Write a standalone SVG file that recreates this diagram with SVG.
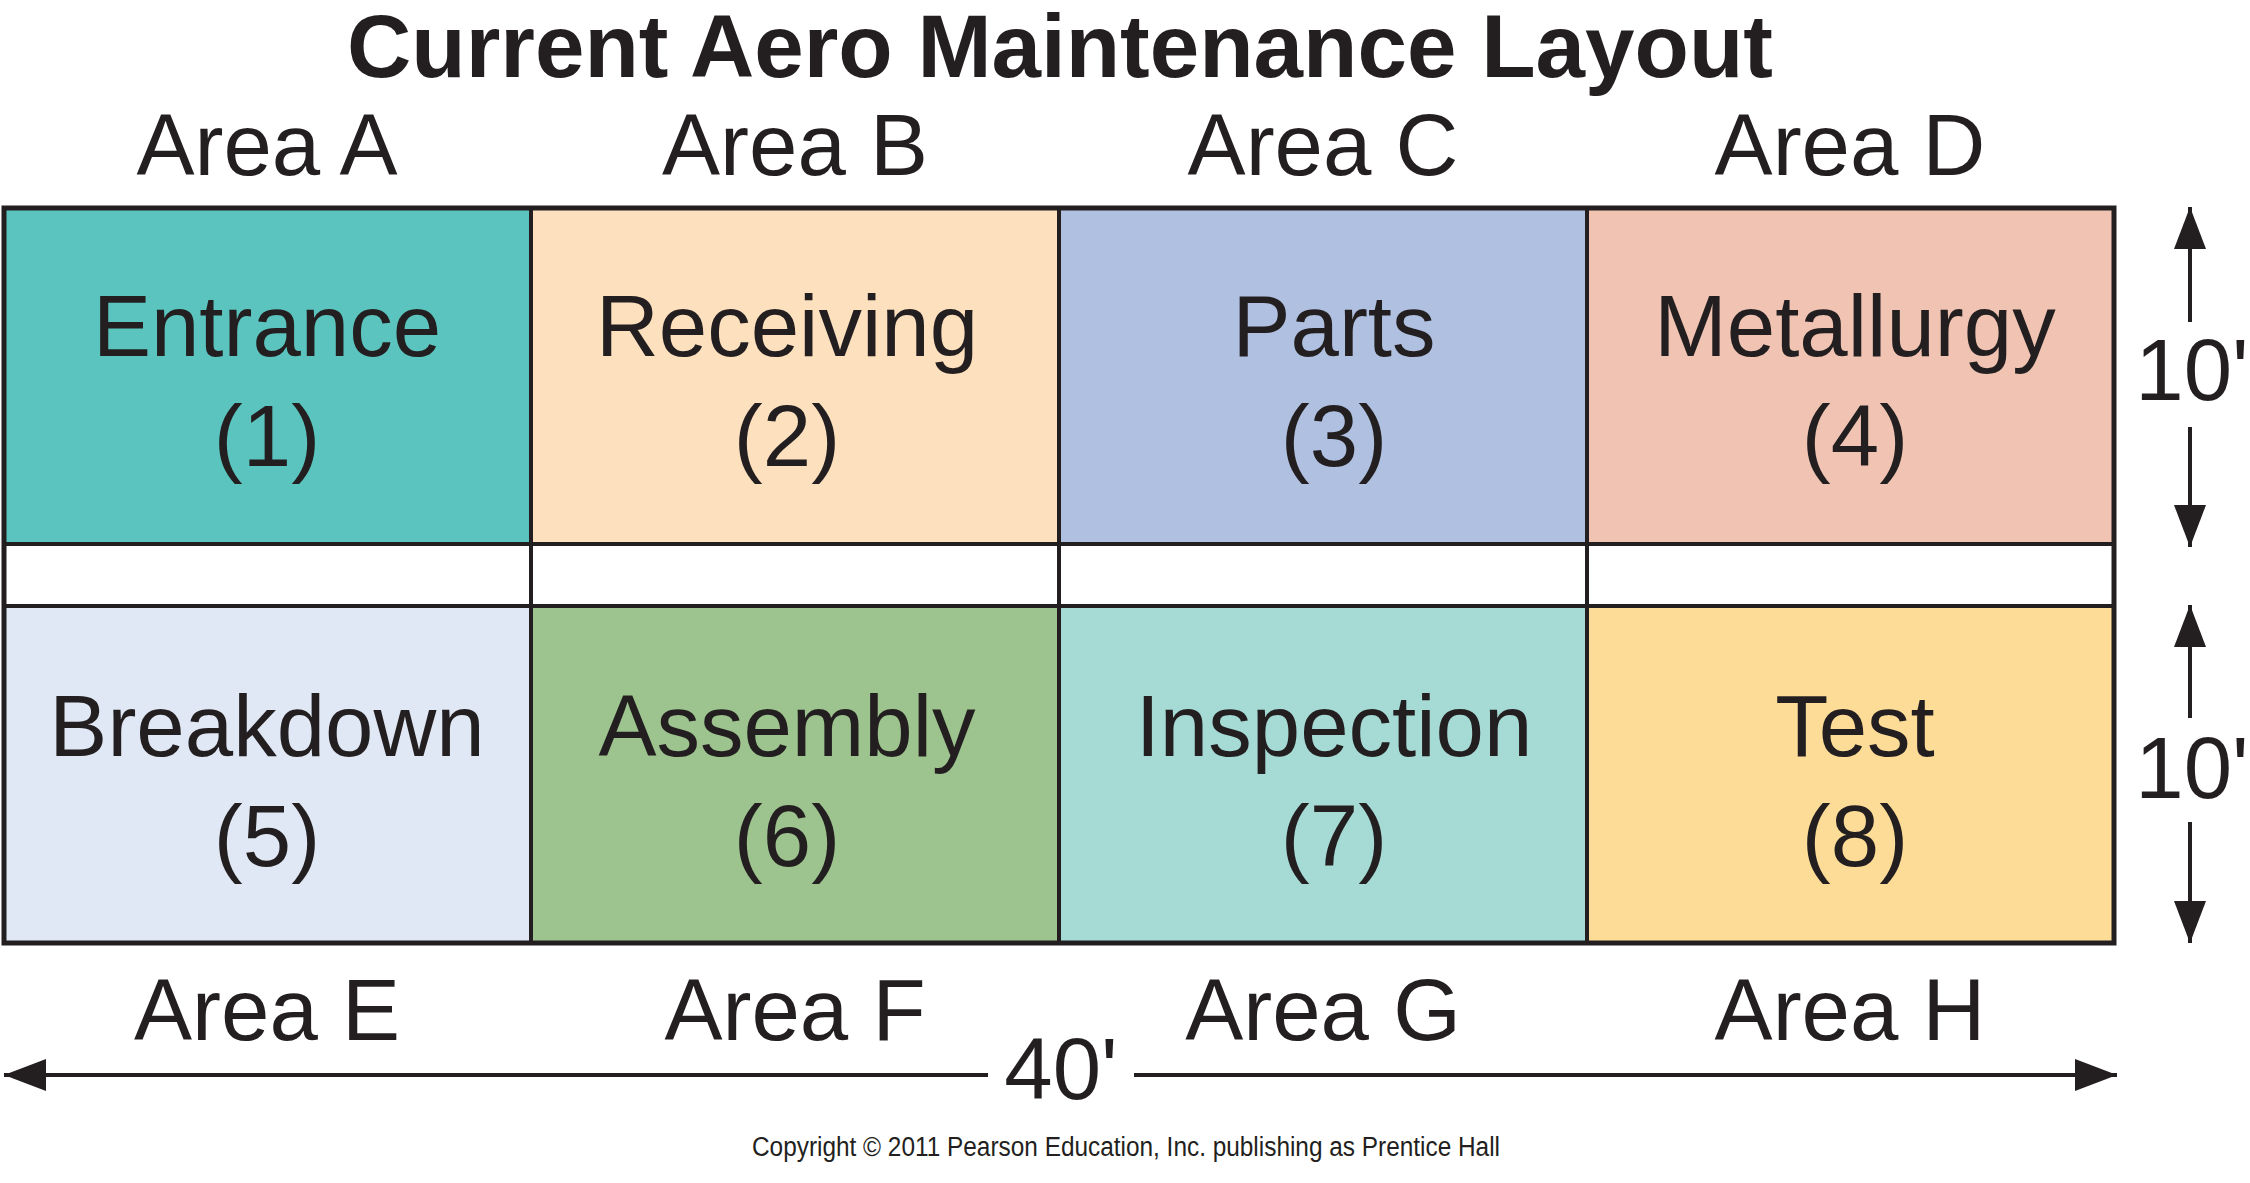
<svg xmlns="http://www.w3.org/2000/svg" width="2250" height="1183" viewBox="0 0 2250 1183">
<style>
.t{font-family:"Liberation Sans",Arial,sans-serif;fill:#231f20;text-anchor:middle}
.title{font-size:89px;font-weight:bold}
.lbl{font-size:87px}
.cell{stroke:#231f20;stroke-width:4}
.dim{stroke:#231f20;stroke-width:4;fill:none}
.copy{font-family:"Liberation Sans",Arial,sans-serif;font-size:27px;fill:#231f20;text-anchor:middle}
</style>
<defs>
<marker id="ah" viewBox="0 0 42 32" refX="42" refY="16" markerWidth="42" markerHeight="32" markerUnits="userSpaceOnUse" orient="auto-start-reverse">
<path d="M0,0 L42,16 L0,32 Z" fill="#231f20"/>
</marker>
</defs>
<rect width="2250" height="1183" fill="#ffffff"/>
<text class="t title" x="1060" y="77">Current Aero Maintenance Layout</text>
<g id="area-labels-top">
<text class="t lbl" x="267" y="175">Area A</text>
<text class="t lbl" x="795" y="175">Area B</text>
<text class="t lbl" x="1323" y="175">Area C</text>
<text class="t lbl" x="1850" y="175">Area D</text>
</g>
<g id="aisles">
<rect class="cell" x="4" y="544" width="527" height="62" fill="#ffffff"/>
<rect class="cell" x="531" y="544" width="528" height="62" fill="#ffffff"/>
<rect class="cell" x="1059" y="544" width="528" height="62" fill="#ffffff"/>
<rect class="cell" x="1587" y="544" width="527" height="62" fill="#ffffff"/>
</g>
<g id="entrance">
<rect class="cell" x="4" y="208" width="527" height="336" fill="#5bc4be"/>
<text class="t lbl" x="267" y="356">Entrance</text>
<text class="t lbl" x="267" y="466">(1)</text>
</g>
<g id="receiving">
<rect class="cell" x="531" y="208" width="528" height="336" fill="#fde0be"/>
<text class="t lbl" x="787" y="356">Receiving</text>
<text class="t lbl" x="787" y="466">(2)</text>
</g>
<g id="parts">
<rect class="cell" x="1059" y="208" width="528" height="336" fill="#b0c0e0"/>
<text class="t lbl" x="1334" y="356">Parts</text>
<text class="t lbl" x="1334" y="466">(3)</text>
</g>
<g id="metallurgy">
<rect class="cell" x="1587" y="208" width="527" height="336" fill="#f0c3b2"/>
<text class="t lbl" x="1855" y="356">Metallurgy</text>
<text class="t lbl" x="1855" y="466">(4)</text>
</g>
<g id="breakdown">
<rect class="cell" x="4" y="606" width="527" height="337" fill="#e0e8f5"/>
<text class="t lbl" x="267" y="756">Breakdown</text>
<text class="t lbl" x="267" y="866">(5)</text>
</g>
<g id="assembly">
<rect class="cell" x="531" y="606" width="528" height="337" fill="#9dc38e"/>
<text class="t lbl" x="787" y="756">Assembly</text>
<text class="t lbl" x="787" y="866">(6)</text>
</g>
<g id="inspection">
<rect class="cell" x="1059" y="606" width="528" height="337" fill="#a5dad5"/>
<text class="t lbl" x="1334" y="756">Inspection</text>
<text class="t lbl" x="1334" y="866">(7)</text>
</g>
<g id="test">
<rect class="cell" x="1587" y="606" width="527" height="337" fill="#fddc97"/>
<text class="t lbl" x="1855" y="756">Test</text>
<text class="t lbl" x="1855" y="866">(8)</text>
</g>
<rect x="4" y="208" width="2110" height="735" fill="none" stroke="#231f20" stroke-width="5"/>
<g id="area-labels-bottom">
<text class="t lbl" x="267" y="1040">Area E</text>
<text class="t lbl" x="795" y="1040">Area F</text>
<text class="t lbl" x="1323" y="1040">Area G</text>
<text class="t lbl" x="1850" y="1040">Area H</text>
</g>
<g id="connectors">
<line class="dim" x1="2190" y1="322" x2="2190" y2="207" marker-end="url(#ah)"/>
<line class="dim" x1="2190" y1="427" x2="2190" y2="547" marker-end="url(#ah)"/>
<line class="dim" x1="2190" y1="718" x2="2190" y2="605" marker-end="url(#ah)"/>
<line class="dim" x1="2190" y1="822" x2="2190" y2="943" marker-end="url(#ah)"/>
<line class="dim" x1="988" y1="1075" x2="4" y2="1075" marker-end="url(#ah)"/>
<line class="dim" x1="1134" y1="1075" x2="2117" y2="1075" marker-end="url(#ah)"/>
</g>
<g id="dimension-labels">
<text class="t lbl" x="2192" y="400">10'</text>
<text class="t lbl" x="2192" y="798">10'</text>
<text class="t lbl" x="1061" y="1099">40'</text>
</g>
<text class="copy" x="1126" y="1156" textLength="748" lengthAdjust="spacingAndGlyphs">Copyright © 2011 Pearson Education, Inc. publishing as Prentice Hall</text>
</svg>
